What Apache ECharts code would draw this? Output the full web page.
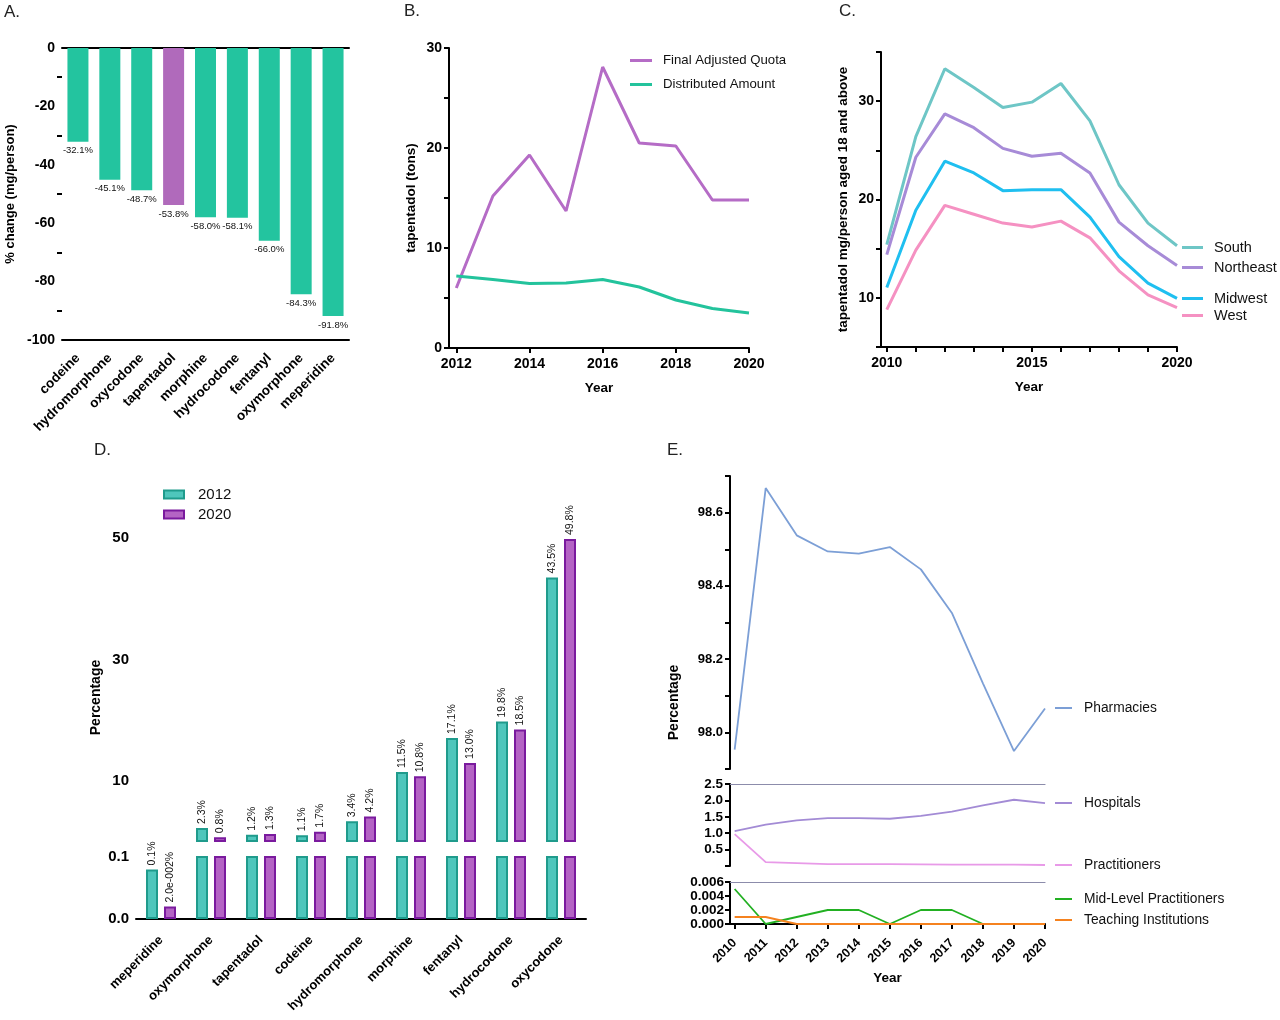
<!DOCTYPE html>
<html>
<head>
<meta charset="utf-8">
<script src="https://cdn.jsdelivr.net/npm/echarts@6/dist/echarts.min.js"></script>
<style>
  html, body { margin: 0; padding: 0; background: #fff; }
  #chart { width: 1280px; height: 1020px; }
</style>
</head>
<body>
<div id="chart"></div>
<script>
// A. % change per drug
const aDrugs = ['codeine', 'hydromorphone', 'oxycodone', 'tapentadol', 'morphine', 'hydrocodone', 'fentanyl', 'oxymorphone', 'meperidine']
const aChange = [-32.1, -45.1, -48.7, -53.8, -58.0, -58.1, -66.0, -84.3, -91.8]

// B. quota vs distributed
const bYears = [2012, 2013, 2014, 2015, 2016, 2017, 2018, 2019, 2020]
const bQuota = [6.0, 15.2, 19.3, 13.7, 28.1, 20.5, 20.2, 14.8, 14.8]
const bDistributed = [7.2, 6.85, 6.45, 6.5, 6.85, 6.1, 4.8, 3.95, 3.5]
const bXTicks = [2012, 2014, 2016, 2018, 2020]

// C. regions
const cYears = [2010, 2011, 2012, 2013, 2014, 2015, 2016, 2017, 2018, 2019, 2020]
const cSouth = [15.4, 26.4, 33.3, 31.4, 29.35, 29.9, 31.8, 28.0, 21.5, 17.6, 15.3]
const cNortheast = [14.4, 24.3, 28.7, 27.3, 25.2, 24.4, 24.7, 22.7, 17.7, 15.3, 13.3]
const cMidwest = [11.05, 18.9, 23.9, 22.7, 20.9, 21.0, 21.0, 18.2, 14.2, 11.5, 9.95]
const cWest = [8.8, 14.85, 19.4, 18.5, 17.6, 17.2, 17.8, 16.1, 12.75, 10.3, 9.0]
const cXLabels = [2010, 2015, 2020]
const cYTicks = [5, 10, 15, 20, 25, 30, 35]
const cYLabels = [10, 20, 30]

// D. share by drug, 2012 vs 2020
const dDrugs = ['meperidine', 'oxymorphone', 'tapentadol', 'codeine', 'hydromorphone', 'morphine', 'fentanyl', 'hydrocodone', 'oxycodone']
const d2012 = [0.08, 2.3, 1.2, 1.1, 3.4, 11.5, 17.1, 19.8, 43.5]
const d2020 = [0.02, 0.8, 1.3, 1.7, 4.2, 10.8, 13.0, 18.5, 49.8]
const dTopTicks = [0, 10, 20, 30, 40, 50]
const dTopLabels = [10, 30, 50]
const dLowTicks = [0, 0.1]
const dBreak = 0.1

// E. share by business type
const eYears = [2010, 2011, 2012, 2013, 2014, 2015, 2016, 2017, 2018, 2019, 2020]
const ePharmacies = [97.953, 98.667, 98.538, 98.494, 98.488, 98.506, 98.445, 98.326, 98.134, 97.949, 98.065]
const eHospitals = [1.06, 1.26, 1.39, 1.46, 1.46, 1.44, 1.53, 1.66, 1.85, 2.02, 1.92]
const ePractitioners = [0.97, 0.12, 0.09, 0.06, 0.06, 0.06, 0.05, 0.04, 0.04, 0.04, 0.03]
const eMidLevel = [0.005, 0, 0.001, 0.002, 0.002, 0, 0.002, 0.002, 0, 0, 0]
const eTeaching = [0.001, 0.001, 0, 0, 0, 0, 0, 0, 0, 0, 0]
const eTopTicks = [97.9, 98.0, 98.1, 98.2, 98.3, 98.4, 98.5, 98.6, 98.7]
const eTopLabels = [98.0, 98.2, 98.4, 98.6]
const eMidTicks = [0, 0.5, 1.0, 1.5, 2.0, 2.5]
const eMidLabels = [0.5, 1.0, 1.5, 2.0, 2.5]
const eLowTicks = [0, 0.002, 0.004, 0.006]

const FONT = 'Liberation Sans, Arial, sans-serif'
const TEAL = '#23c49f'
const PURPLE = '#b06abb'

const pairs = (xs, ys) => xs.map((x, i) => [x, ys[i]])
const year = (v) => String(v)

// GraphPad style percent label, tiny values in e-notation
const pct = (v) => {
  if (v < 0.05) {
    const parts = v.toExponential(1).split('e')
    const e = Number(parts[1])
    return parts[0] + 'e' + (e < 0 ? '-' : '+') + String(Math.abs(e)).padStart(3, '0') + '%'
  }
  return v.toFixed(1) + '%'
}

const axisLine = { lineStyle: { color: '#000', width: 2 } }
const axisTick = { length: 5, lineStyle: { color: '#000', width: 2 } }
const minorTick = { show: true, splitNumber: 2, length: 5, lineStyle: { color: '#000', width: 2 } }
const label = (extra) => Object.assign({ color: '#000', fontWeight: 'bold', fontSize: 14, fontFamily: FONT }, extra)
const nameStyle = (extra) => Object.assign({ color: '#000', fontWeight: 'bold', fontSize: 13.5, fontFamily: FONT }, extra)
const grayLine = { lineStyle: { color: '#8c8cab', width: 1.2 } }

const lineSeries = (name, x, y, data, color, width) => ({
  name, type: 'line', xAxisIndex: x, yAxisIndex: y, data,
  symbol: 'none', showSymbol: false, clip: false,
  lineStyle: { color, width }, itemStyle: { color }
})

const legendAt = (names, left, top, extra) => Object.assign({
  data: names, left, top, orient: 'vertical', padding: 0,
  icon: 'rect', itemWidth: 21, itemHeight: 3, itemGap: 10,
  selectedMode: false,
  textStyle: { color: '#111', fontSize: 14.5, fontFamily: FONT, padding: [0, 0, 0, 6] }
}, extra)
const eLegendText = { color: '#111', fontSize: 13.8, fontFamily: FONT, padding: [0, 0, 0, 7] }

const chart = echarts.init(document.getElementById('chart'), null, { renderer: 'canvas' })

const titleStyle = { color: '#222', fontSize: 17, fontWeight: 'normal', fontFamily: FONT }

const barLabel = (test) => ({
  show: true, position: 'top', rotate: 90, align: 'left', verticalAlign: 'middle', distance: 4,
  fontSize: 10.5, color: '#111', fontFamily: FONT,
  formatter: (p) => (test(p.value) ? pct(p.value) : '')
})

const option = {
  animation: false,
  backgroundColor: '#fff',
  title: [
    { text: 'A.', left: 4, top: 4, textStyle: titleStyle, padding: 0 },
    { text: 'B.', left: 404, top: 3, textStyle: titleStyle, padding: 0 },
    { text: 'C.', left: 839, top: 3, textStyle: titleStyle, padding: 0 },
    { text: 'D.', left: 94, top: 442, textStyle: titleStyle, padding: 0 },
    { text: 'E.', left: 667, top: 442, textStyle: titleStyle, padding: 0 }
  ],
  legend: [
    legendAt(['Final Adjusted Quota', 'Distributed Amount'], 630, 54, { itemWidth: 22, itemGap: 11,
      textStyle: { color: '#111', fontSize: 13.2, fontFamily: FONT, padding: [0, 0, 0, 6] } }),
    legendAt(['South'], 1182, 240),
    legendAt(['Northeast'], 1182, 260),
    legendAt(['Midwest'], 1182, 291),
    legendAt(['West'], 1182, 308),
    legendAt(['2012', '2020'], 163, 487, { icon: 'rect', itemWidth: 20, itemHeight: 8, itemGap: 5,
      textStyle: { color: '#111', fontSize: 15, fontFamily: FONT, padding: [0, 0, 0, 9] } }),
    legendAt(['Pharmacies'], 1055, 701, { itemWidth: 17, itemHeight: 2, textStyle: eLegendText }),
    legendAt(['Hospitals'], 1055, 796, { itemWidth: 17, itemHeight: 2, textStyle: eLegendText }),
    legendAt(['Practitioners'], 1055, 858, { itemWidth: 17, itemHeight: 2, textStyle: eLegendText }),
    legendAt(['Mid-Level Practitioners'], 1055, 892, { itemWidth: 17, itemHeight: 2, textStyle: eLegendText }),
    legendAt(['Teaching Institutions'], 1055, 913, { itemWidth: 17, itemHeight: 2, textStyle: eLegendText })
  ],
  grid: [
    { left: 62, top: 48, width: 287, height: 292 },   // A
    { left: 449, top: 48, width: 300, height: 300 },  // B
    { left: 881, top: 52, width: 296, height: 295 },  // C
    { left: 136, top: 477, width: 450, height: 365 }, // D upper
    { left: 136, top: 857, width: 450, height: 62 },  // D lower
    { left: 730, top: 476, width: 315, height: 293 }, // E pharmacies
    { left: 730, top: 784, width: 315, height: 82 },  // E hospitals / practitioners
    { left: 730, top: 882, width: 315, height: 42 }   // E small ones
  ],
  xAxis: [
    // 0: A bottom
    { type: 'category', gridIndex: 0, data: aDrugs, position: 'bottom',
      axisLine: Object.assign({ onZero: false }, axisLine),
      axisTick: Object.assign({ alignWithLabel: true }, axisTick),
      axisLabel: label({ rotate: 45, margin: 16, interval: 0, fontSize: 13.5 }) },
    // 1: A zero line at top
    { type: 'category', gridIndex: 0, data: aDrugs, position: 'top',
      axisLine: Object.assign({ onZero: false }, axisLine),
      axisTick: { show: false }, axisLabel: { show: false } },
    // 2: B
    { type: 'value', gridIndex: 1, min: 2011.8, max: 2020, name: 'Year',
      nameLocation: 'middle', nameGap: 33, nameTextStyle: nameStyle(),
      axisLine, axisTick: Object.assign({ customValues: bXTicks }, axisTick),
      axisLabel: label({ customValues: bXTicks, margin: 9, formatter: year }), splitLine: { show: false } },
    // 3: C
    { type: 'value', gridIndex: 2, min: 2009.8, max: 2020, name: 'Year',
      nameLocation: 'middle', nameGap: 33, nameTextStyle: nameStyle(),
      axisLine, axisTick: Object.assign({ customValues: cYears }, axisTick),
      axisLabel: label({ customValues: cXLabels, margin: 9, formatter: year }), splitLine: { show: false } },
    // 4: D upper (hidden)
    { type: 'category', gridIndex: 3, data: dDrugs, show: false },
    // 5: D lower
    { type: 'category', gridIndex: 4, data: dDrugs,
      axisLine, axisTick: Object.assign({ alignWithLabel: true }, axisTick),
      axisLabel: label({ rotate: 45, margin: 19, interval: 0, fontSize: 13 }) },
    // 6: E top (hidden)
    { type: 'value', gridIndex: 5, min: 2009.85, max: 2020, show: false },
    // 7: E middle, gray line at top
    { type: 'value', gridIndex: 6, min: 2009.85, max: 2020, position: 'top',
      axisLine: Object.assign({ onZero: false }, grayLine), axisTick: { show: false },
      axisLabel: { show: false }, splitLine: { show: false } },
    // 8: E bottom, year axis
    { type: 'value', gridIndex: 7, min: 2009.85, max: 2020, position: 'bottom', name: 'Year',
      nameLocation: 'middle', nameGap: 47, nameTextStyle: nameStyle(),
      axisLine: Object.assign({ onZero: false }, axisLine),
      axisTick: Object.assign({ customValues: eYears }, axisTick),
      axisLabel: label({ customValues: eYears, rotate: 45, fontSize: 12.5, margin: 17, formatter: year }),
      splitLine: { show: false } },
    // 9: E bottom, gray line at top
    { type: 'value', gridIndex: 7, min: 2009.85, max: 2020, position: 'top',
      axisLine: Object.assign({ onZero: false }, grayLine), axisTick: { show: false },
      axisLabel: { show: false }, splitLine: { show: false } }
  ],
  yAxis: [
    // 0: A
    { type: 'value', gridIndex: 0, min: -100, max: 0, interval: 20,
      name: '% change (mg/person)', nameLocation: 'middle', nameGap: 45, nameTextStyle: nameStyle({ fontSize: 13 }),
      axisLine, axisTick, minorTick,
      axisLabel: label({ margin: 7 }), splitLine: { show: false }, minorSplitLine: { show: false } },
    // 1: B
    { type: 'value', gridIndex: 1, min: 0, max: 30, interval: 10,
      name: 'tapentadol (tons)', nameLocation: 'middle', nameGap: 31, nameTextStyle: nameStyle(),
      axisLine, axisTick, minorTick,
      axisLabel: label({ margin: 7 }), splitLine: { show: false }, minorSplitLine: { show: false } },
    // 2: C
    { type: 'value', gridIndex: 2, min: 5, max: 35,
      name: 'tapentadol mg/person aged 18 and above', nameLocation: 'middle', nameGap: 31, nameTextStyle: nameStyle(),
      axisLine, axisTick: Object.assign({ customValues: cYTicks }, axisTick),
      axisLabel: label({ customValues: cYLabels, margin: 7 }), splitLine: { show: false } },
    // 3: D upper
    { type: 'value', gridIndex: 3, min: 0, max: 60,
      name: 'Percentage', nameLocation: 'middle', nameGap: 33,
      nameTextStyle: nameStyle({ fontSize: 14, padding: [0, 76, 0, 0] }),
      axisLine, axisTick: Object.assign({ customValues: dTopTicks }, axisTick),
      axisLabel: label({ customValues: dTopLabels, margin: 7, fontSize: 15 }), splitLine: { show: false } },
    // 4: D lower
    { type: 'value', gridIndex: 4, min: 0, max: 0.1,
      axisLine, axisTick: Object.assign({ customValues: dLowTicks }, axisTick),
      axisLabel: label({ customValues: dLowTicks, margin: 7, fontSize: 15, formatter: (v) => v.toFixed(1) }),
      splitLine: { show: false } },
    // 5: E top
    { type: 'value', gridIndex: 5, min: 97.9, max: 98.7,
      name: 'Percentage', nameLocation: 'middle', nameGap: 49,
      nameTextStyle: nameStyle({ fontSize: 14, padding: [0, 160, 0, 0] }),
      axisLine, axisTick: Object.assign({ customValues: eTopTicks }, axisTick),
      axisLabel: label({ customValues: eTopLabels, fontSize: 13, margin: 7, formatter: (v) => v.toFixed(1) }),
      splitLine: { show: false } },
    // 6: E middle
    { type: 'value', gridIndex: 6, min: 0, max: 2.5,
      axisLine, axisTick: Object.assign({ customValues: eMidTicks }, axisTick),
      axisLabel: label({ customValues: eMidLabels, fontSize: 13.5, margin: 7, formatter: (v) => v.toFixed(1) }),
      splitLine: { show: false } },
    // 7: E bottom
    { type: 'value', gridIndex: 7, min: 0, max: 0.006,
      axisLine, axisTick: Object.assign({ customValues: eLowTicks }, axisTick),
      axisLabel: label({ customValues: eLowTicks, fontSize: 13.5, margin: 6, formatter: (v) => v.toFixed(3) }),
      splitLine: { show: false } }
  ],
  series: [
    // A
    { name: 'change', type: 'bar', xAxisIndex: 0, yAxisIndex: 0, data: aChange, barWidth: 21,
      itemStyle: { color: (p) => (p.name === 'tapentadol' ? PURPLE : TEAL) },
      label: { show: true, position: 'bottom', distance: 4, fontSize: 9.5, color: '#111', fontFamily: FONT,
        formatter: (p) => p.value.toFixed(1) + '%' } },
    // B
    lineSeries('Final Adjusted Quota', 2, 1, pairs(bYears, bQuota), '#b56cc6', 3),
    lineSeries('Distributed Amount', 2, 1, pairs(bYears, bDistributed), '#23c39c', 3),
    // C
    lineSeries('South', 3, 2, pairs(cYears, cSouth), '#6ec6c6', 3),
    lineSeries('Northeast', 3, 2, pairs(cYears, cNortheast), '#a78bd7', 3),
    lineSeries('Midwest', 3, 2, pairs(cYears, cMidwest), '#1fbff0', 3),
    lineSeries('West', 3, 2, pairs(cYears, cWest), '#f591c2', 3),
    // D upper: values below the break live only in the lower panel
    { name: '2012', type: 'bar', xAxisIndex: 4, yAxisIndex: 3, barWidth: 12, barGap: '50%',
      data: d2012.map((v) => (v > dBreak ? v : null)),
      itemStyle: { color: '#4fc6bc', borderColor: '#1f9b8c', borderWidth: 2 },
      label: barLabel((v) => v > dBreak) },
    { name: '2020', type: 'bar', xAxisIndex: 4, yAxisIndex: 3, barWidth: 12, barGap: '50%',
      data: d2020.map((v) => (v > dBreak ? v : null)),
      itemStyle: { color: '#b464c4', borderColor: '#7a1a9e', borderWidth: 2 },
      label: barLabel((v) => v > dBreak) },
    // D lower
    { name: '2012', type: 'bar', xAxisIndex: 5, yAxisIndex: 4, data: d2012, barWidth: 12, barGap: '50%', clip: true,
      itemStyle: { color: '#4fc6bc', borderColor: '#1f9b8c', borderWidth: 2 },
      label: barLabel((v) => v <= dBreak) },
    { name: '2020', type: 'bar', xAxisIndex: 5, yAxisIndex: 4, data: d2020, barWidth: 12, barGap: '50%', clip: true,
      itemStyle: { color: '#b464c4', borderColor: '#7a1a9e', borderWidth: 2 },
      label: barLabel((v) => v <= dBreak) },
    // E
    lineSeries('Pharmacies', 6, 5, pairs(eYears, ePharmacies), '#7c9fd6', 1.8),
    lineSeries('Hospitals', 7, 6, pairs(eYears, eHospitals), '#a38bd5', 1.8),
    lineSeries('Practitioners', 7, 6, pairs(eYears, ePractitioners), '#e89ae8', 1.8),
    lineSeries('Mid-Level Practitioners', 8, 7, pairs(eYears, eMidLevel), '#22b022', 1.8),
    lineSeries('Teaching Institutions', 8, 7, pairs(eYears, eTeaching), '#f5821f', 1.8)
  ]
}

chart.setOption(option)
</script>
</body>
</html>
